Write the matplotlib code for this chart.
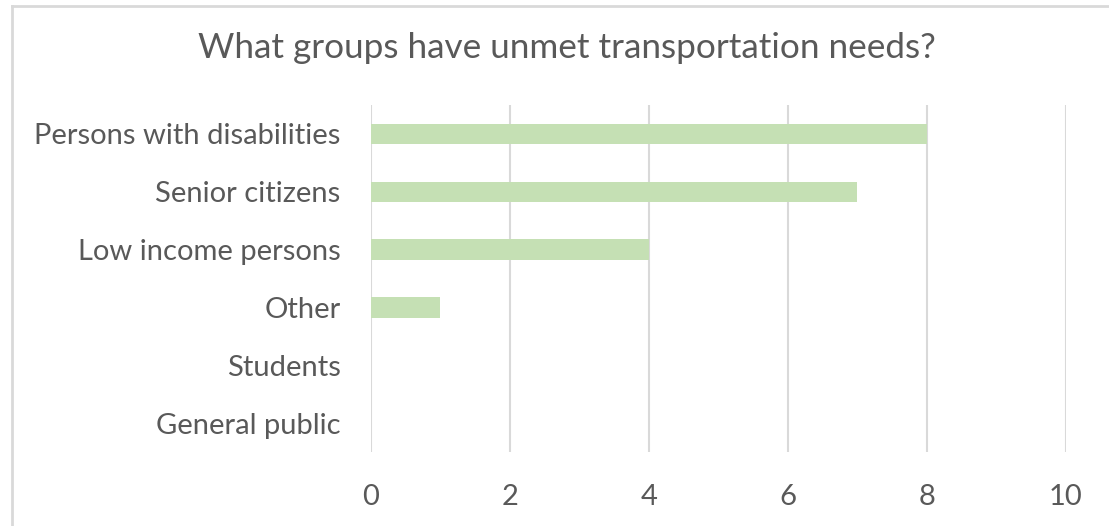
import matplotlib.pyplot as plt
from matplotlib.lines import Line2D

categories = ['Persons with disabilities', 'Senior citizens', 'Low income persons',
              'Other', 'Students', 'General public']
counts = [8, 7, 4, 1, 0, 0]
xticks = [0, 2, 4, 6, 8, 10]

plt.rcParams['font.family'] = ['Lato', 'DejaVu Sans']
text_color = '#595959'
grid_color = '#d9d9d9'

fig = plt.figure(figsize=(11.09, 5.26), dpi=100)
ax = fig.add_axes([0.3345, 0.1407, 0.6267, 0.6597])

ypos = list(range(len(categories)))[::-1]
ax.barh(ypos, counts, height=0.35, color='#c5e0b4', zorder=3)

ax.set_xlim(0, 10)
ax.set_ylim(-0.5, len(categories) - 0.5)
ax.set_xticks(xticks)
ax.set_yticks(ypos)
ax.set_yticklabels(categories)
ax.tick_params(axis='both', length=0, labelsize=21, colors=text_color)
ax.tick_params(axis='x', pad=23)
ax.tick_params(axis='y', pad=22)
ax.grid(axis='x', color=grid_color, linewidth=1.5, zorder=0)
for s in ax.spines.values():
    s.set_visible(False)

fig.text(567 / 1109, 1 - 48 / 526, 'What groups have unmet transportation needs?',
         ha='center', va='center', fontsize=25.3, color=text_color)

# chart border (left and top edges visible)
fig.add_artist(Line2D([12 / 1109, 12 / 1109], [0, 1 - 6 / 526],
                      color=grid_color, linewidth=2, transform=fig.transFigure))
fig.add_artist(Line2D([12 / 1109, 1], [1 - 6 / 526, 1 - 6 / 526],
                      color=grid_color, linewidth=2, transform=fig.transFigure))

fig.savefig('out.png', dpi=100)
